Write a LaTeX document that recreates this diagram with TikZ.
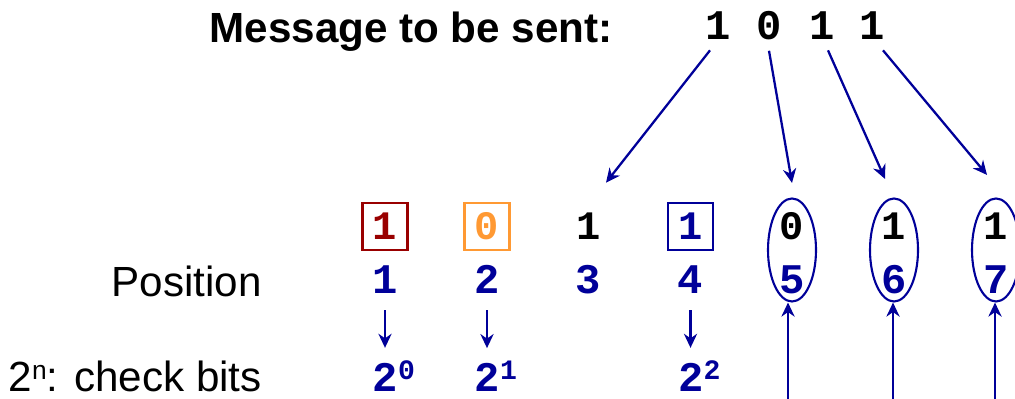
\documentclass[tikz,border=0pt]{standalone}
\usepackage{fontspec}
\setmainfont{Liberation Sans}
\setmonofont{Liberation Mono}
\usetikzlibrary{shapes.geometric, arrows.meta, positioning, calc}
\definecolor{hamblue}{RGB}{0,0,153}
\definecolor{hamred}{RGB}{153,0,0}
\definecolor{hamorange}{RGB}{255,153,51}
\newcommand{\twopow}[1]{2\raisebox{0.24cm}{\fontsize{16}{16}\selectfont #1}}
\tikzset{
  rowlabel/.style={anchor=base east, inner sep=0pt,
    font=\fontsize{24}{28}\selectfont},
  msgbit/.style={anchor=base, inner sep=0.2cm,
    font=\fontsize{24}{28}\selectfont\ttfamily\bfseries},
  bit/.style={minimum width=0.9cm, minimum height=0.94cm, inner sep=0pt,
    font=\fontsize{23}{26}\selectfont\ttfamily\bfseries},
  checkbit/.style={bit, draw, line width=1.2pt},
  posnum/.style={anchor=base, inner sep=0pt, text=hamblue,
    font=\fontsize{24}{28}\selectfont\ttfamily\bfseries},
  power/.style={anchor=base west, inner sep=0pt, text=hamblue,
    font=\fontsize{24}{28}\selectfont\ttfamily\bfseries},
  ring/.style={ellipse, draw=hamblue, line width=1.2pt, minimum width=0.96cm,
    minimum height=2.06cm, inner sep=0pt},
  arrow/.style={-{Stealth[length=8pt, width=7.5pt]}, line width=1.3pt,
    color=hamblue},
}
\begin{document}
\begin{tikzpicture}
  \useasboundingbox (0,0) rectangle (20.3,7.98);
  % message bits
  \node[anchor=base east, inner sep=0pt, font=\fontsize{24}{28}\selectfont\bfseries]
    (msg) at (12.26,7.12) {Message to be sent:};
  \node[msgbit] (m1) at (14.36,7.18) {1};
  \node[msgbit] (m2) at (15.38,7.18) {0};
  \node[msgbit] (m3) at (16.44,7.18) {1};
  \node[msgbit] (m4) at (17.44,7.18) {1};
  % codeword
  \node[checkbit, draw=hamred, text=hamred] (b1) at (7.7,3.45) {1};
  \node[checkbit, draw=hamorange, text=hamorange] (b2) at (9.74,3.45) {0};
  \node[bit] (b3) at (11.77,3.45) {1};
  \node[checkbit, draw=hamblue, text=hamblue] (b4) at (13.81,3.45) {1};
  \node[bit] (b5) at (15.84,3.45) {0};
  \node[bit] (b6) at (17.88,3.45) {1};
  \node[bit] (b7) at (19.92,3.45) {1};
  % positions
  \node[rowlabel] (lpos) at (5.24,2.04) {Position};
  \node[posnum] (p1) at (7.7,2.1) {1};
  \node[posnum] (p2) at (9.74,2.1) {2};
  \node[posnum] (p3) at (11.77,2.1) {3};
  \node[posnum] (p4) at (13.81,2.1) {4};
  \node[posnum] (p5) at (15.84,2.1) {5};
  \node[posnum] (p6) at (17.88,2.1) {6};
  \node[posnum] (p7) at (19.92,2.1) {7};
  % data bits are ringed
  \node[ring] (e5) at (15.84,2.98) {};
  \node[ring] (e6) at (17.88,2.98) {};
  \node[ring] (e7) at (19.92,2.98) {};
  % check bits
  \node[rowlabel] (lchk) at (5.24,0.15)
    {2\raisebox{0.24cm}{\fontsize{15}{15}\selectfont n}: check bits};
  \node[power] (c1) at (7.45,0.14) {\twopow{0}};
  \node[power] (c2) at (9.49,0.14) {\twopow{1}};
  \node[power] (c4) at (13.56,0.14) {\twopow{2}};
  \foreach \i in {1,2,4}
    \draw[arrow, shorten <=0.32cm, shorten >=0.26cm]
      (p\i.south) -- (p\i.south |- c\i.north);
  % message bits go to the data positions
  \draw[arrow] ([xshift=-0.16cm]m1.south) -- ([shift={(0.35,0.4)}]b3.north);
  \draw[arrow] (m2.south) -- ([yshift=0.29cm]e5.north);
  \draw[arrow] ([xshift=0.12cm]m3.south) -- ([shift={(-0.18,0.37)}]e6.north);
  \draw[arrow] ([xshift=0.22cm]m4.south) -- ([shift={(-0.18,0.45)}]e7.north);
  % arrows from below
  \coordinate (u5) at (15.76,0);
  \coordinate (u6) at (17.86,0);
  \coordinate (u7) at (19.9,0);
  \foreach \i in {5,6,7}
    \draw[arrow] (u\i) -- (u\i |- e\i.south);
\end{tikzpicture}
\end{document}
